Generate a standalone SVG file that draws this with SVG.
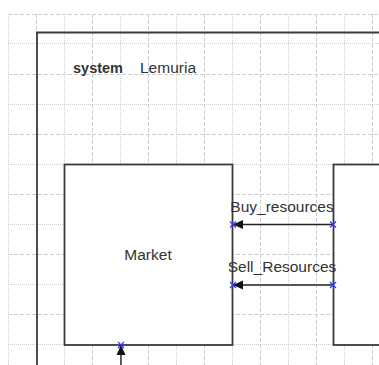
<svg xmlns="http://www.w3.org/2000/svg" width="379" height="365" viewBox="0 0 379 365">
<style>
.gd{stroke:#cdcdcd;stroke-width:1;stroke-dasharray:4 2;fill:none}
.gt{stroke:#cdcdcd;stroke-width:1;stroke-dasharray:1 1;fill:none}
.box{fill:#fff;stroke:#3a3a3a;stroke-width:1.8}
.frame{fill:none;stroke:#3a3a3a;stroke-width:1.8}
.lbl{font-family:"Liberation Sans",Arial,sans-serif;font-size:15.5px;fill:#333}
.conn{stroke:#222;stroke-width:1.4;fill:none}
.pt{stroke:#3333ff;stroke-width:1.2;fill:none}
</style>
<defs>
<marker id="ah" markerWidth="11" markerHeight="11" refX="10" refY="5.5" orient="auto" markerUnits="userSpaceOnUse">
<path d="M0,1 L10,5.5 L0,10 Z" fill="#111"/>
</marker>
</defs>
<rect width="379" height="365" fill="#fff"/>
<g id="grid">
<path class="gt" d="M8.5,14V365 M64.5,14V365 M120.5,14V365 M176.5,14V365 M232.5,14V365 M288.5,14V365 M344.5,14V365"/>
<path class="gd" d="M36.5,14V365 M92.5,14V365 M148.5,14V365 M204.5,14V365 M260.5,14V365 M316.5,14V365 M372.5,14V365"/>
<path class="gd" d="M8,14.5H379 M8,74.5H379 M8,134.5H379 M8,194.5H379 M8,254.5H379 M8,314.5H379"/>
<path class="gt" d="M8,43.5H379 M8,104.5H379 M8,164.5H379 M8,224.5H379 M8,284.5H379 M8,344.5H379"/>
</g>
<g id="system">
<path class="frame" d="M37,366V32.5H380"/>
<text x="73" y="72.5" class="lbl" style="font-weight:bold;font-size:14.5px">system</text>
<text x="140" y="72.5" class="lbl">Lemuria</text>
</g>
<g id="market">
<rect class="box" x="64.5" y="164.5" width="168" height="180.5"/>
<text x="148" y="260" class="lbl" text-anchor="middle">Market</text>
</g>
<g id="other">
<rect class="box" x="333.5" y="164.5" width="60" height="180.5"/>
</g>
<g id="connectors">
<line class="conn" x1="333" y1="224.5" x2="233" y2="224.5" marker-end="url(#ah)"/>
<text x="282" y="211.5" class="lbl" text-anchor="middle">Buy_resources</text>
<line class="conn" x1="333" y1="285" x2="233" y2="285" marker-end="url(#ah)"/>
<text x="282" y="271.5" class="lbl" text-anchor="middle">Sell_Resources</text>
<line class="conn" x1="121" y1="366" x2="121" y2="345" marker-end="url(#ah)"/>
<path class="pt" d="M230,221.5l6,6m0,-6l-6,6 M330,221.5l6,6m0,-6l-6,6 M230,282l6,6m0,-6l-6,6 M330,282l6,6m0,-6l-6,6 M118,342l6,6m0,-6l-6,6"/>
</g>
</svg>
